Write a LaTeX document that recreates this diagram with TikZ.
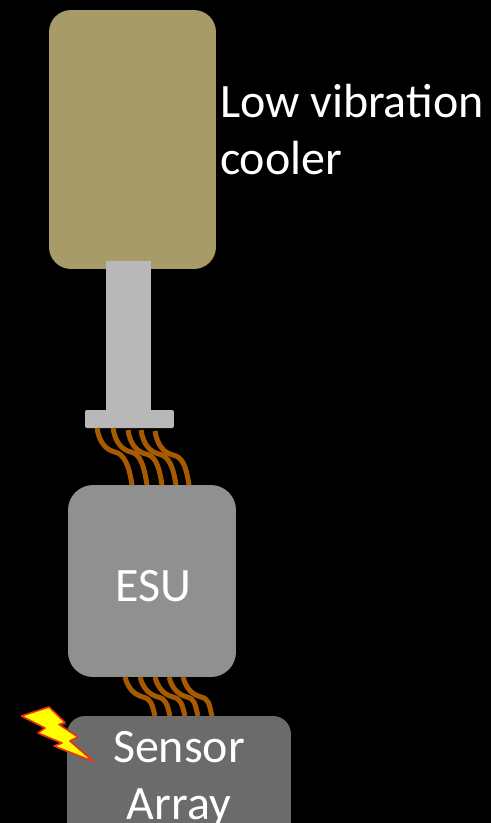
\documentclass[tikz,border=0pt]{standalone}
\usepackage{xcolor}
\usepackage{fontspec}
\setmainfont{Carlito}
\usetikzlibrary{positioning,calc,shadows}
\definecolor{coolertan}{HTML}{A79B68}
\definecolor{stemgray}{HTML}{B8B8B8}
\definecolor{esugray}{HTML}{909090}
\definecolor{arraygray}{HTML}{6B6B6B}
\definecolor{wirebrown}{HTML}{A85A00}
\definecolor{boltred}{HTML}{F03010}
\definecolor{boltyellow}{HTML}{FFFF00}
\tikzset{
  part/.style={inner sep=0pt,outer sep=0pt,align=center,text=white,
               font=\fontsize{27.3}{32}\selectfont},
  wire/.style={draw=wirebrown,line width=1mm},
  bolt/.style={draw=boltred,fill=boltyellow,line width=0.32mm,line join=round,
               drop shadow={opacity=0.35,shadow xshift=0.4mm,shadow yshift=-0.4mm}}
}

\begin{document}
\begin{tikzpicture}[x=0.02cm,y=-0.02cm]
  \fill[black,use as bounding box] (0,0) rectangle (491,823);
  \node[part,fill=coolertan,rounded corners=4.4mm,minimum width=3.34cm,minimum height=5.18cm] (cooler) at (132.5,139.5) {};
  \node[part,fill=stemgray,minimum width=0.9cm,minimum height=3.08cm] (stem) at (128.5,338) {};
  \node[part,fill=stemgray,rounded corners=0.4mm,minimum width=1.78cm,minimum height=0.36cm] (flange) at (129.5,419) {};
  \node[part,fill=esugray,rounded corners=5mm,minimum width=3.36cm,minimum height=3.84cm] (esu) at (152,581) {};
  \node[part,fill=arraygray,rounded corners=3.6mm,minimum width=4.48cm,minimum height=2.8cm,anchor=north west] (array) at (67,716) {};
  \node[part,anchor=base] (esutext) at (153,601) {ESU};
  \node[part,anchor=base] (sensor) at (179,762) {Sensor};
  \node[part,anchor=base] (arr) at (179,819) {Array};
  \node[part,anchor=base west] (low) at (220,117) {Low vibration};
  \node[part,anchor=base west] (cool) at (220,174) {cooler};
  \foreach \s/\h/\t in {12/0/64,28/0/79,43/2/94,56/2/108,70/3/121}{
    \draw[wire] ($(flange.south west)+(\s,\h)$) .. controls +(2,14) and +(-9,-2) .. ++(18,24)
      .. controls +(9,2) and ($(esu.north west)+(\t-3,-20)$) .. ($(esu.north west)+(\t,0)$);
  }
  \foreach \s/\t in {57/88,72/103,87/118,101/131,115/145}{
    \draw[wire] ($(esu.south west)+(\s,0)$) .. controls +(3,12) and +(-8,-2) .. ++(18,20)
      .. controls +(8,2) and ($(array.north west)+(\t-3,-12)$) .. ($(array.north west)+(\t,0)$);
  }
  \draw[bolt] (21.5,716) -- (49,707) -- (65,722.5) -- (59,724.5) -- (78,737) -- (70,741) -- (93.5,761.5)
    -- (54,746) -- (62,743) -- (38,733) -- (45,728) -- cycle;
\end{tikzpicture}
\end{document}
